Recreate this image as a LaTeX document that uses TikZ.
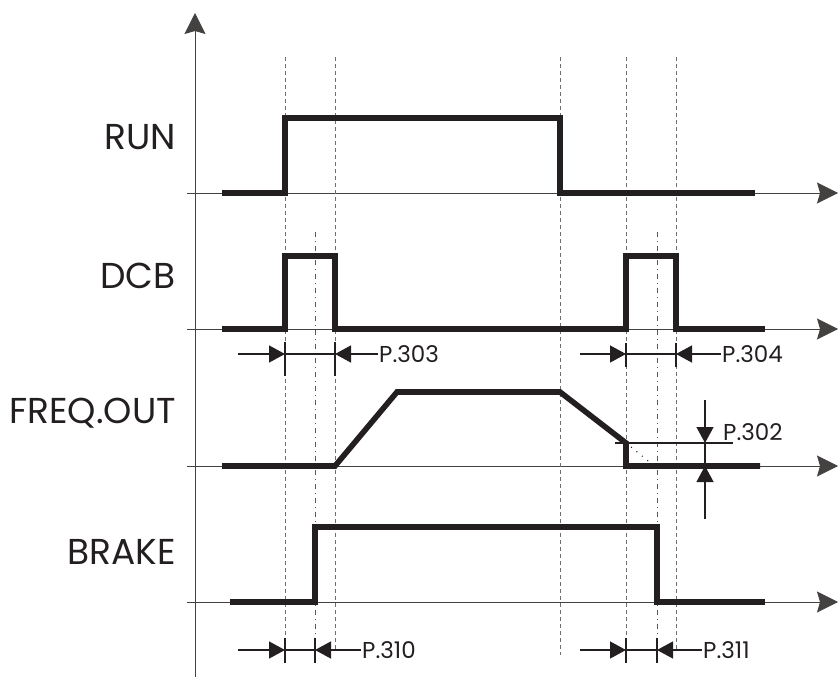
\documentclass[tikz,border=0pt]{standalone}
\usepackage{fontspec}
\setmainfont{Poppins}
\usetikzlibrary{arrows.meta}
\definecolor{ink}{HTML}{231F20}
\begin{document}
\begin{tikzpicture}[x=1pt,y=-1pt,
  axisline/.style={line width=1pt, draw=ink!85},
  axarrow/.style={axisline, -{Stealth[length=21pt,width=21pt,inset=3pt]}},
  sig/.style={line width=5.6pt, line join=miter, draw=ink},
  guide/.style={line width=0.8pt, dash pattern=on 4pt off 3pt, draw=ink!65},
  guidedd/.style={line width=0.8pt, dash pattern=on 5pt off 4pt on 1pt off 4pt, draw=ink!75},
  dimline/.style={line width=1.3pt, draw=ink},
  dimarrow/.style={dimline, -{Triangle[length=16pt,width=17pt]}},
  tick/.style={line width=1.3pt, draw=ink},
  biglabel/.style={anchor=east, inner sep=0pt, text=ink, font=\fontsize{36}{40}\selectfont},
  plabel/.style={anchor=west, inner sep=0pt, text=ink, font=\fontsize{23}{26}\selectfont}
]
\useasboundingbox (0,0) rectangle (838,677);

% axes
\coordinate (vbot) at (195,677);
\coordinate (vtop) at (195,13);
\draw[axarrow] (vbot) -- (vtop);
\foreach \n/\y in {run/193,dcb/329,frq/466,brk/602}{
  \coordinate (\n L) at (187,\y);
  \coordinate (\n R) at (838,\y);
  \draw[axarrow] (\n L) -- (\n R);
}

% guide lines
\foreach \n/\x/\yb in {g1/285/660,g2/335/650,g3/560/655,g4/626/660,g5/676/650}{
  \coordinate (\n t) at (\x,57);
  \coordinate (\n b) at (\x,\yb);
  \draw[guide] (\n t) -- (\n b);
}
\foreach \n/\x in {d1/315,d2/657}{
  \coordinate (\n t) at (\x,232);
  \coordinate (\n b) at (\x,664);
  \draw[guidedd] (\n t) -- (\n b);
}

% labels
\node[biglabel] (lrun) at (176,137) {RUN};
\node[biglabel] (ldcb) at (176,276) {DCB};
\node[biglabel] (lfrq) at (176,413) {FREQ.OUT};
\node[biglabel] (lbrk) at (176,552) {BRAKE};

% signals
\draw[sig] (222,193) -- (285,193) -- (285,118) -- (560,118) -- (560,193) -- (755,193);
\draw[sig] (222,329) -- (285,329) -- (285,256) -- (335,256) -- (335,329)
  -- (626,329) -- (626,256) -- (676,256) -- (676,329) -- (765,329);
\draw[sig] (222,466) -- (335,466) -- (397,392) -- (560,392) -- (626,443) -- (626,466) -- (760,466);
\draw[sig] (230,602) -- (315,602) -- (315,527) -- (657,527) -- (657,602) -- (765,602);

% dotted continuation of ramp
\coordinate (rampend) at (626,443);
\coordinate (dotend) at (652,464);
\draw[ink, line width=1.4pt, line cap=round, dash pattern=on 0pt off 7pt] (rampend) -- (dotend);

% P.303
\coordinate (a303l) at (238,354); \coordinate (a303a) at (285,354);
\coordinate (a303b) at (335,354); \coordinate (a303r) at (378,354);
\draw[tick] (285,342) -- (285,376);
\draw[tick] (335,342) -- (335,376);
\draw[dimline] (a303a) -- (a303b);
\draw[dimarrow] (a303l) -- (a303a);
\draw[dimarrow] (a303r) -- (a303b);
\node[plabel] (p303) at (379,354) {P.303};

% P.304
\coordinate (a304l) at (580,354); \coordinate (a304a) at (626,354);
\coordinate (a304b) at (676,354); \coordinate (a304r) at (721,354);
\draw[tick] (626,343) -- (626,367);
\draw[tick] (676,343) -- (676,367);
\draw[dimline] (a304a) -- (a304b);
\draw[dimarrow] (a304l) -- (a304a);
\draw[dimarrow] (a304r) -- (a304b);
\node[plabel] (p304) at (722,354) {P.304};

% P.302
\coordinate (h302l) at (615,443); \coordinate (h302r) at (733,443);
\draw[dimline] (h302l) -- (h302r);
\coordinate (v302t) at (705,400); \coordinate (v302a) at (705,443);
\coordinate (v302b) at (705,466); \coordinate (v302d) at (705,519);
\draw[dimline] (v302a) -- (v302b);
\draw[dimarrow] (v302t) -- (v302a);
\draw[dimarrow] (v302d) -- (v302b);
\node[plabel] (p302) at (723,432) {P.302};

% P.310
\coordinate (a310l) at (238,650); \coordinate (a310a) at (285,650);
\coordinate (a310b) at (315,650); \coordinate (a310r) at (361,650);
\draw[tick] (285,638) -- (285,663);
\draw[tick] (315,638) -- (315,663);
\draw[dimline] (a310a) -- (a310b);
\draw[dimarrow] (a310l) -- (a310a);
\draw[dimarrow] (a310r) -- (a310b);
\node[plabel] (p310) at (362,650) {P.310};

% P.311
\coordinate (a311l) at (580,650); \coordinate (a311a) at (626,650);
\coordinate (a311b) at (657,650); \coordinate (a311r) at (702,650);
\draw[tick] (626,638) -- (626,663);
\draw[tick] (657,638) -- (657,663);
\draw[dimline] (a311a) -- (a311b);
\draw[dimarrow] (a311l) -- (a311a);
\draw[dimarrow] (a311r) -- (a311b);
\node[plabel] (p311) at (703,650) {P.311};
\end{tikzpicture}
\end{document}
